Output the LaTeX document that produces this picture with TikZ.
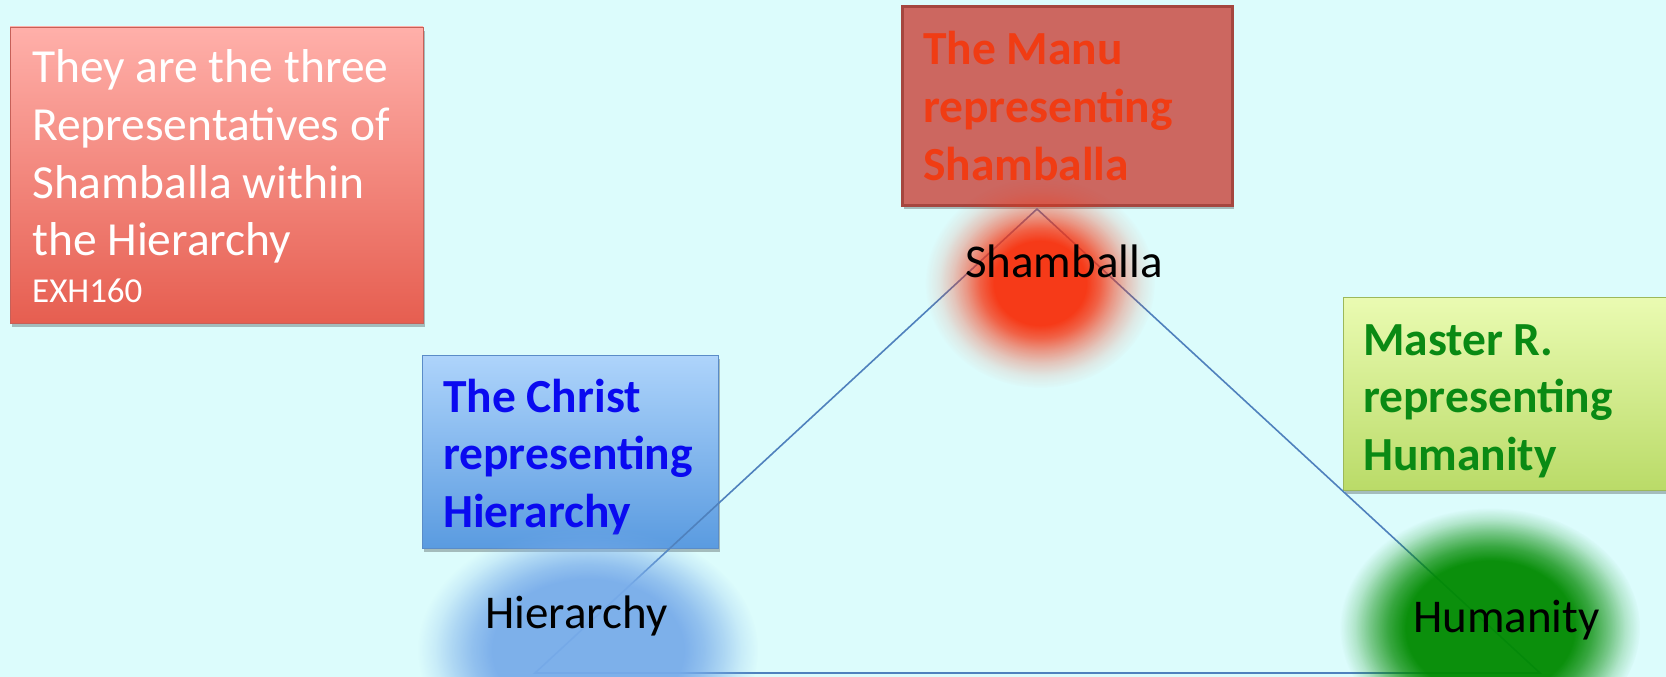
\documentclass[tikz,border=0pt]{standalone}
\usepackage{fontspec}
\setmainfont{Carlito}
\usetikzlibrary{shadows,fadings}
\definecolor{bgc}{HTML}{DCFCFC}
\definecolor{pinktop}{HTML}{FFB0AA}
\definecolor{pinkbot}{HTML}{E65E50}
\definecolor{pinkbd}{HTML}{C66058}
\definecolor{manufill}{HTML}{CC6760}
\definecolor{manubd}{HTML}{A5463F}
\definecolor{manutxt}{HTML}{F03C14}
\definecolor{christtop}{HTML}{AED4FB}
\definecolor{christbot}{HTML}{5A9BE0}
\definecolor{christbd}{HTML}{5A8CC8}
\definecolor{christtxt}{HTML}{0A0AF0}
\definecolor{mastertop}{HTML}{EAFBB2}
\definecolor{masterbot}{HTML}{BADB68}
\definecolor{masterbd}{HTML}{9CB85A}
\definecolor{mastertxt}{HTML}{0A8A14}
\definecolor{blobred}{HTML}{F8300C}
\definecolor{blobblue}{HTML}{78ACEA}
\definecolor{blobgreen}{HTML}{008A00}
\definecolor{linec}{HTML}{4F81BD}
\pgfdeclareradialshading{blobshade}{\pgfpointorigin}{color(0bp)=(white); color(10bp)=(white); color(13bp)=(black!20); color(16bp)=(black!48); color(19bp)=(black!72); color(22bp)=(black!90); color(25bp)=(black); color(50bp)=(black)}
\pgfdeclarefading{blobfade}{\pgfuseshading{blobshade}}
\pgfdeclareradialshading{blobshadewide}{\pgfpointorigin}{color(0bp)=(white); color(14bp)=(white); color(17bp)=(black!22); color(20bp)=(black!52); color(22.5bp)=(black!80); color(25bp)=(black); color(50bp)=(black)}
\pgfdeclarefading{blobfadewide}{\pgfuseshading{blobshadewide}}
\tikzset{
  bigtxt/.style={anchor=base west, inner sep=0pt, font=\fontsize{47.5pt}{57pt}\selectfont},
  boldtxt/.style={bigtxt, font=\fontsize{47.5pt}{57pt}\selectfont\bfseries},
  lbl/.style={anchor=base west, inner sep=0pt, text=black, font=\fontsize{47pt}{55pt}\selectfont},
  panel/.style={anchor=north west, inner sep=0pt, outer sep=0pt,
    drop shadow={shadow xshift=2pt, shadow yshift=-4pt, opacity=0.25, fill=black}},
  blob/.style={path fading=blobfade, fill opacity=0.95},
  blobwide/.style={path fading=blobfadewide, fill opacity=0.95},
}
\begin{document}
\begin{tikzpicture}[x=1pt,y=-1pt]
\useasboundingbox (0,0) rectangle (1666,677);
\clip (0,0) rectangle (1666,677);
\fill[bgc] (0,0) rectangle (1666,677);

% panels
\node[panel, draw=pinkbd, line width=0.8pt, top color=pinktop, bottom color=pinkbot,
  minimum width=413pt, minimum height=296pt] (pinkbox) at (10,27) {};
\node[panel, draw=manubd, line width=3pt, fill=manufill,
  minimum width=330pt, minimum height=198pt] (manubox) at (902,7) {};
\node[panel, draw=christbd, line width=0.8pt, top color=christtop, bottom color=christbot,
  minimum width=296pt, minimum height=193pt] (christbox) at (422,355) {};
\node[panel, draw=masterbd, line width=0.8pt, top color=mastertop, bottom color=masterbot,
  minimum width=330pt, minimum height=193pt] (masterbox) at (1343,297) {};

% texts in panels
\node[bigtxt, text=white] (p1) at (32,83) {They are the three};
\node[bigtxt, text=white] (p2) at (32,140) {Representatives of};
\node[bigtxt, text=white] (p3) at (32,198) {Shamballa within};
\node[bigtxt, text=white] (p4) at (32,255) {the Hierarchy};
\node[anchor=base west, inner sep=0pt, text=white, font=\fontsize{35pt}{42pt}\selectfont] (p5) at (32,302) {EXH160};

\node[boldtxt, text=manutxt] (m1) at (923,65) {The Manu};
\node[boldtxt, text=manutxt] (m2) at (923,122) {representing};
\node[boldtxt, text=manutxt] (m3) at (923,180) {Shamballa};

\node[boldtxt, text=christtxt] (c1) at (443,412) {The Christ};
\node[boldtxt, text=christtxt] (c2) at (443,469) {representing};
\node[boldtxt, text=christtxt] (c3) at (443,527) {Hierarchy};

\node[boldtxt, text=mastertxt] (r1) at (1363,355) {Master R.};
\node[boldtxt, text=mastertxt] (r2) at (1363,412) {representing};
\node[boldtxt, text=mastertxt] (r3) at (1363,470) {Humanity};

% triangle
\coordinate (apex) at (1037,209);
\coordinate (bl) at (535,673);
\coordinate (br) at (1540,673);
\draw[linec, line width=1.6pt, line join=miter] (apex) -- (bl) -- (br) -- cycle;

% glows
\fill[blobred, blob] (1040,283) ellipse [x radius=115pt, y radius=105pt];
\fill[blobblue, blobwide] (588,650) ellipse [x radius=170pt, y radius=126pt];
\fill[blobgreen, blobwide] (1490,628) ellipse [x radius=150pt, y radius=120pt];

% labels
\node[lbl] (shamlbl) at (965,277) {Shamballa};
\node[lbl] (hierlbl) at (485,628) {Hierarchy};
\node[lbl] (humlbl) at (1413,632) {Humanity};
\end{tikzpicture}
\end{document}
